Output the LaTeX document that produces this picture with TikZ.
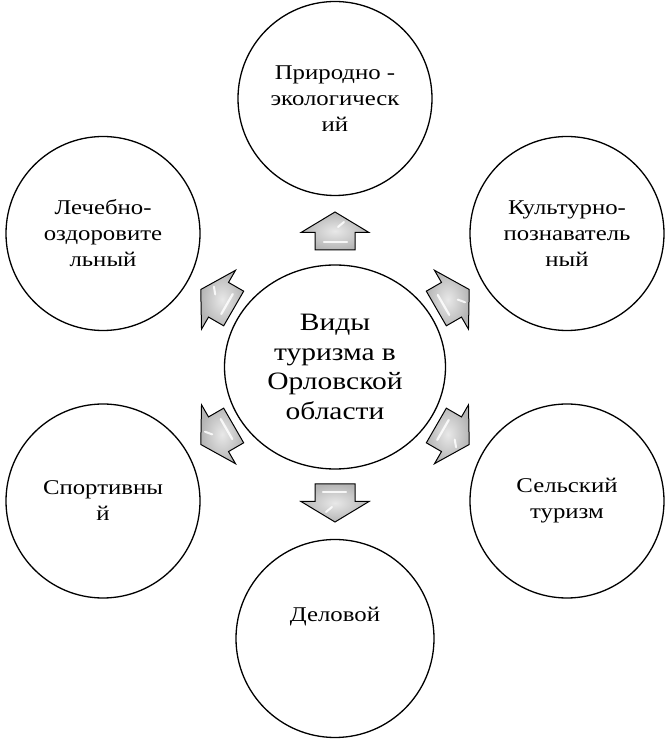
\documentclass[tikz,border=0pt]{standalone}
\usepackage{fontspec}
\setmainfont{Liberation Serif}[FakeStretch=1.18]
\usetikzlibrary{shapes.geometric}
\tikzset{
  bubble/.style={circle, draw=black, line width=1.3pt, fill=white,
    minimum size=194pt, inner sep=0pt, align=center,
    font=\fontsize{21}{26}\selectfont},
  hub/.style={ellipse, draw=black, line width=1.3pt, fill=white,
    minimum width=221pt, minimum height=204pt, inner sep=0pt, align=center,
    font=\fontsize{25}{29.5}\selectfont},
  blockarrow/.pic={
    \path[draw=black, line width=1pt, line join=miter,
      inner color=gray!18, outer color=gray!58]
      (-19,-20) -- (-1.5,-20) -- (-1.5,-34) -- (19,0) -- (-1.5,34)
      -- (-1.5,20) -- (-19,20) -- cycle;
    \draw[white, line width=2.2pt, line cap=round, opacity=0.85]
      (-11,-12) -- (-11,11);
    \draw[white, line width=2pt, line cap=round, opacity=0.85]
      (4,-3) -- (9,-9);
  }
}
\begin{document}
\begin{tikzpicture}[x=1pt,y=1pt]
  \useasboundingbox (0,0) rectangle (670,742);
  \node[hub] (hub) at (335,375) {Виды\\туризма в\\Орловской\\области};
  \node[bubble] (nat) at (335,643.5) {Природно -\\экологическ\\ий};
  \node[bubble] (med) at (103,508.5) {Лечебно-\\оздоровите\\льный};
  \node[bubble] (cul) at (567,508.5) {Культурно-\\познаватель\\ный};
  \node[bubble] (spo) at (103,241) {Спортивны\\й};
  \node[bubble] (rur) at (567,241) {Сельский\\туризм};
  \node[bubble, minimum size=198pt] (bus) at (335,103.5) {};
  \node[font=\fontsize{21}{26}\selectfont] (bust) at ([yshift=21.5pt]bus.center) {Деловой};
  \foreach \a in {90,150,30,210,330,270}{
    \pic[rotate=\a] at ([shift={(\a:136)}]hub.center) {blockarrow};
  }
\end{tikzpicture}
\end{document}
